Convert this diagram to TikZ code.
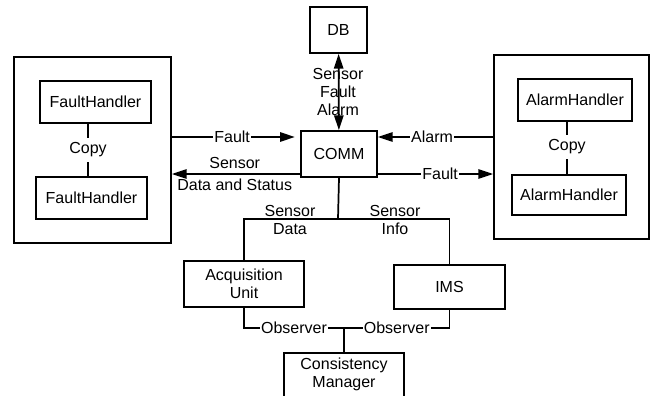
\documentclass[tikz,border=0pt]{standalone}
\usepackage{fontspec}
\setmainfont{Liberation Sans}
\usetikzlibrary{arrows.meta,fit}
\begin{document}
\begin{tikzpicture}[x=0.75pt,y=-0.75pt,line width=1.3pt,
  every node/.style={font=\fontsize{12}{13.5}\selectfont},
  box/.style={draw,align=center,inner sep=0pt},
  lbl/.style={fill=white,inner xsep=1pt,inner ysep=2pt},
  txt/.style={align=center,inner sep=2pt},
  arr/.style={-{Triangle[length=11pt,width=7pt]}},
  darr/.style={{Triangle[length=11pt,width=7pt]}-{Triangle[length=11pt,width=7pt]}}]
\useasboundingbox (0,0) rectangle (650,396);
% helper rows
\coordinate (r1) at (0,137);
\coordinate (r2) at (0,174);
% left group
\node[box,minimum width=117.75pt,minimum height=139.5pt] (lout) at (92.5,150) {};
\node[box,minimum width=83.25pt,minimum height=31.5pt] (fh1) at (95.5,102) {FaultHandler};
\node[box,minimum width=83.25pt,minimum height=31.5pt] (fh2) at (91.5,198) {FaultHandler};
\node[txt,inner sep=3pt] (copy1) at (88,150) {Copy};
\draw (copy1) -- (copy1 |- fh1.south);
\draw (copy1) -- (copy1 |- fh2.north);
% right group
\node[box,minimum width=116.25pt,minimum height=138pt] (rout) at (571.5,147) {};
\node[box,minimum width=85.5pt,minimum height=31.5pt] (ah1) at (575,100) {AlarmHandler};
\node[box,minimum width=85.5pt,minimum height=30pt] (ah2) at (569,195) {AlarmHandler};
\node[txt,inner sep=3pt] (copy2) at (567,147) {Copy};
\draw (copy2) -- (copy2 |- ah1.south);
\draw (copy2) -- (copy2 |- ah2.north);
% centre
\node[box,minimum width=42.75pt,minimum height=34.5pt] (db) at (338.5,30) {DB};
\node[box,minimum width=57pt,minimum height=34.5pt] (comm) at (339,154) {COMM};
\draw[darr] (db) -- (comm);
\node[txt] (dblbl) at (338,92) {Sensor\\Fault\\Alarm};
\draw[arr,shorten >=4pt] (lout.east |- r1) -- node[lbl,pos=0.47] {Fault} (comm.west |- r1);
\draw[arr] (comm.west |- r2) -- (lout.east |- r2)
  node[pos=0.51,above=0pt] {Sensor}
  node[pos=0.51,below=0pt] {Data and Status};
\draw[arr] (rout.west |- r1) -- node[lbl,pos=0.53] {Alarm} (comm.east |- r1);
\draw[arr] (comm.east |- r2) -- node[lbl,pos=0.54] {Fault} (rout.west |- r2);
% lower part
\node[box,minimum width=90pt,minimum height=34.5pt] (acq) at (244,284) {Acquisition\\Unit};
\node[box,minimum width=83.25pt,minimum height=33pt] (ims) at (449.5,287) {IMS};
\coordinate (j1) at (338,219);
\draw (comm.south) -- (j1);
\draw (acq.north) |- (j1) -| (ims.north);
\node[txt] (sdlbl) at (290,220) {Sensor\\Data};
\node[txt] (silbl) at (395,220) {Sensor\\Info};
\node[box,minimum width=90pt,minimum height=42.75pt] (cm) at (344,381.5) {};
\node[txt] (cmtxt) at (344,374) {Consistency\\Manager};
\coordinate (j2) at (344,328);
\draw (acq.south) |- node[lbl,pos=0.75] {Observer} (j2);
\draw (ims.south) |- node[lbl,pos=0.75] {Observer} (j2);
\draw (j2) -- (cm.north);
\end{tikzpicture}
\end{document}
